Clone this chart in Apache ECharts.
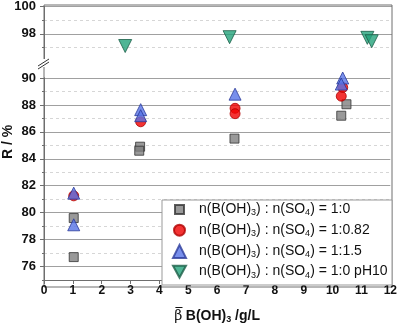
<!DOCTYPE html>
<html><head><meta charset="utf-8">
<script src="https://cdn.jsdelivr.net/npm/echarts@6/dist/echarts.min.js"></script>
<style>html,body{margin:0;padding:0;background:#fff}#c{width:400px;height:329px}</style>
</head><body><div id="c"></div>
<script>
// ---- data ----
var seriesNames = [
  'n(B(OH)3) : n(SO4) = 1:0',
  'n(B(OH)3) : n(SO4) = 1:0.82',
  'n(B(OH)3) : n(SO4) = 1:1.5',
  'n(B(OH)3) : n(SO4) = 1:0 pH10'
];
var ratio_1_0 = [[1.03,79.6],[1.03,76.7],[3.33,84.9],[3.3,84.6],[6.6,85.5],[10.3,87.2],[10.48,88.05]];
var ratio_1_082 = [[1.03,81.25],[3.35,86.75],[6.62,87.75],[6.62,87.35],[10.3,88.65],[10.35,89.3]];
var ratio_1_15 = [[1.03,81.45],[1.03,79.1],[3.35,87.65],[3.35,87.2],[6.62,88.8],[10.35,90.0],[10.3,89.55]];
var ratio_1_0_pH10 = [[2.8,97.1],[6.4,97.75],[11.15,97.7],[11.3,97.45]];
var xRange = [0, 12];
var yUpperRange = [96, 100];
var yLowerRange = [75, 90];

// ---- layout ----
var L = 44, R = 8, W = 400 - L - R;
var upTop = 5, upH = 56;
var loTop = 78, loH = 209;
var FONT = "'Liberation Sans', Arial, sans-serif";
var SERIF = "'DejaVu Serif', serif";
var axisCol = '#6e6e6e', gridCol = '#a0a0a0', minorCol = '#d6d6d6';

var chart = echarts.init(document.getElementById('c'), null, {renderer: 'canvas'});
var labelStyle = {fontFamily: FONT, fontWeight: 'bold', fontSize: 12, color: '#111'};
var yLabelStyle = {fontFamily: FONT, fontWeight: 'bold', fontSize: 13, color: '#111'};

// legend: one component per entry so each icon keeps its own size
var legIcon = [9, 11, 13, 13];
var legIconShape = [null, null, null, 'path://M0,0 L12,0 L6,11 Z'];
var legRowY = [210.5, 231.2, 251.9, 272.6];
var legIconX = 178.5, legTextX = 198;
var legends = seriesNames.map(function (n, i) {
  var iw = legIcon[i];
  var item = {name: n};
  if (legIconShape[i]) item.icon = legIconShape[i];
  return {
    z: 60, orient: 'vertical', left: legIconX - iw / 2, top: legRowY[i] - 8, padding: 0,
    itemWidth: iw, itemHeight: iw, data: [item],
    formatter: function (nm) {
      return '{p|}{a|' + nm.replace('(OH)3', '(OH)}{s|3}{a|').replace('SO4', 'SO}{s|4}{a|') + '}';
    },
    textStyle: {rich: {
      p: {width: legTextX - (legIconX + iw / 2) - 5},
      a: {fontFamily: FONT, fontSize: 14, color: '#111', lineHeight: 16},
      s: {fontFamily: FONT, fontSize: 9, color: '#111', padding: [7, 0, 0, 0]}
    }}
  };
});

var xNameGap = 28;
var option = {
  animation: false,
  backgroundColor: '#fff',
  grid: [
    {left: L, width: W, top: upTop, height: upH},
    {left: L, width: W, top: loTop, height: loH}
  ],
  xAxis: [
    {gridIndex: 0, type: 'value', min: xRange[0], max: xRange[1], interval: 1, show: false},
    {gridIndex: 1, type: 'value', min: xRange[0], max: xRange[1], interval: 1,
     axisLine: {show: true, lineStyle: {color: axisCol}},
     axisTick: {show: true, length: 4, lineStyle: {color: axisCol}},
     axisLabel: Object.assign({margin: 5}, labelStyle),
     splitLine: {show: false},
     name: '{g|β} {b|B(OH)}{s|3}{b| /g/L}', nameLocation: 'middle', nameGap: xNameGap,
     nameTextStyle: {rich: {
       g: {fontFamily: SERIF, fontSize: 14, color: '#111'},
       b: {fontFamily: FONT, fontWeight: 'bold', fontSize: 14, color: '#111'},
       s: {fontFamily: FONT, fontWeight: 'bold', fontSize: 9, color: '#111', padding: [7, 0, 0, 0]}
     }}}
  ],
  yAxis: [
    {gridIndex: 0, type: 'value', min: yUpperRange[0], max: yUpperRange[1], interval: 2,
     axisLine: {show: true, lineStyle: {color: axisCol}},
     axisTick: {show: true, length: 4, lineStyle: {color: axisCol}},
     minorTick: {show: true, splitNumber: 2, length: 2, lineStyle: {color: axisCol}},
     axisLabel: Object.assign({margin: 8, showMinLabel: false}, yLabelStyle),
     splitLine: {show: true, showMinLine: false, lineStyle: {color: gridCol}},
     minorSplitLine: {show: true, lineStyle: {color: minorCol, type: [3, 3]}}},
    {gridIndex: 1, type: 'value', min: yLowerRange[0], max: yLowerRange[1], interval: 1, position: 'left', z: 1,
     axisLine: {show: true, lineStyle: {color: axisCol}},
     axisTick: {show: true, length: 2, lineStyle: {color: axisCol}},
     axisLabel: {show: false},
     splitLine: {show: true, showMinLine: false, showMaxLine: false, lineStyle: {color: minorCol, type: [3, 3]}}},
    {gridIndex: 1, type: 'value', min: yLowerRange[0], max: yLowerRange[1], splitNumber: 7, minInterval: 2, maxInterval: 2,
     position: 'left', z: 3,
     axisLine: {show: true, lineStyle: {color: axisCol}},
     axisTick: {show: true, length: 4, lineStyle: {color: axisCol}},
     axisLabel: Object.assign({margin: 8, showMinLabel: false}, yLabelStyle),
     splitLine: {show: true, showMinLine: false, lineStyle: {color: gridCol}}}
  ],
  legend: legends,
  series: [
    {name: seriesNames[0], type: 'scatter', xAxisIndex: 1, yAxisIndex: 2, data: ratio_1_0, z: 5,
     symbol: 'rect', symbolSize: 9, itemStyle: {color: '#7f7f7f', borderColor: '#333', borderWidth: 1}},
    {name: seriesNames[1], type: 'scatter', xAxisIndex: 1, yAxisIndex: 2, data: ratio_1_082, z: 6,
     symbol: 'circle', symbolSize: 10, itemStyle: {color: '#f00000', borderColor: '#b00000', borderWidth: 1}},
    {name: seriesNames[2], type: 'scatter', xAxisIndex: 1, yAxisIndex: 2, data: ratio_1_15, z: 7,
     symbol: 'triangle', symbolSize: 12, itemStyle: {color: '#5673e6', borderColor: '#2a3a9a', borderWidth: 1}},
    {name: seriesNames[3], type: 'scatter', xAxisIndex: 0, yAxisIndex: 0, data: ratio_1_0_pH10, z: 7,
     symbol: 'triangle', symbolRotate: 180, symbolSize: 13, itemStyle: {color: '#23a37a', borderColor: '#1c5e47', borderWidth: 1}}
  ]
};
chart.setOption(option);

// overbar above the beta of the x-axis title (measured from the same fonts)
var ctx = document.createElement('canvas').getContext('2d');
function tw(t, f) { ctx.font = f; return ctx.measureText(t).width; }
var wBeta = tw('β', '14px ' + SERIF);
var wTitle = wBeta + tw(' ', '14px ' + FONT) + tw('B(OH)', 'bold 14px ' + FONT) +
             tw('3', 'bold 9px ' + FONT) + tw(' /g/L', 'bold 14px ' + FONT);
var bottom = loTop + loH, breakY = upTop + upH + 2;
var titleX0 = L + W / 2 - wTitle / 2, titleY = bottom + xNameGap;

chart.setOption({graphic: [
  {type: 'rect', z: 0, silent: true, shape: {x: L, y: upTop, width: W, height: bottom - upTop},
   style: {fill: null, stroke: axisCol, lineWidth: 1}},
  {type: 'rect', z: 50, silent: true, shape: {x: 162, y: 200, width: L + W - 162, height: 85},
   style: {fill: '#fff', stroke: '#999', lineWidth: 1}},
  {type: 'rect', z: 100, silent: true, shape: {x: L - 6, y: breakY - 4, width: 12, height: 8},
   style: {fill: '#fff'}},
  {type: 'line', z: 101, silent: true, shape: {x1: L - 6, y1: breakY + 3, x2: L + 5, y2: breakY - 4},
   style: {stroke: '#333', lineWidth: 1}},
  {type: 'line', z: 101, silent: true, shape: {x1: L - 6, y1: breakY + 6, x2: L + 5, y2: breakY - 1},
   style: {stroke: '#333', lineWidth: 1}},
  {type: 'line', z: 101, silent: true, shape: {x1: titleX0 + 0.5, y1: titleY - 7.5, x2: titleX0 + wBeta - 0.5, y2: titleY - 7.5},
   style: {stroke: '#111', lineWidth: 1}},
  {type: 'text', z: 101, silent: true, x: 8, y: 142, rotation: Math.PI / 2,
   style: {text: 'R / %', fontFamily: FONT, fontWeight: 'bold', fontSize: 14, fill: '#111', align: 'center', verticalAlign: 'middle'}}
]});
</script>
</body></html>
